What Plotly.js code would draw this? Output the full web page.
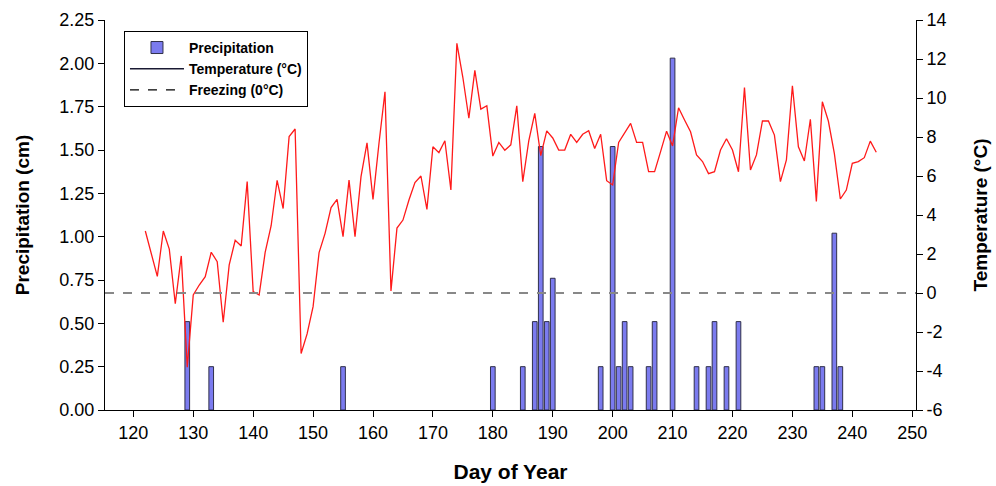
<!DOCTYPE html>
<html>
<head>
<meta charset="utf-8">
<script src="https://cdn.plot.ly/plotly-3.0.1.min.js"></script>
<style>
  html, body { margin: 0; padding: 0; background: #ffffff; }
  #chart { width: 996px; height: 486px; }
</style>
</head>
<body>
<div id="chart"></div>
<script>
// Precipitation events (day of year, cm)
const precipDays = [129, 133, 155, 180, 185, 187, 188, 189, 190, 198, 200, 201, 202, 203, 206, 207, 210, 214, 216, 217, 219, 221, 234, 235, 237, 238];
const precipCm   = [0.51, 0.25, 0.25, 0.25, 0.25, 0.51, 1.52, 0.51, 0.76, 0.25, 1.52, 0.25, 0.51, 0.25, 0.25, 0.51, 2.03, 0.25, 0.25, 0.51, 0.25, 0.51, 0.25, 0.25, 1.02, 0.25];

// Daily mean temperature, days 122..244 (°C)
const tempDays = [122,123,124,125,126,127,128,129,130,131,132,133,134,135,136,137,138,139,140,141,142,143,144,145,146,147,148,149,150,151,152,153,154,155,156,157,158,159,160,161,162,163,164,165,166,167,168,169,170,171,172,173,174,175,176,177,178,179,180,181,182,183,184,185,186,187,188,189,190,191,192,193,194,195,196,197,198,199,200,201,202,203,204,205,206,207,208,209,210,211,212,213,214,215,216,217,218,219,220,221,222,223,224,225,226,227,228,229,230,231,232,233,234,235,236,237,238,239,240,241,242,243,244];
const tempC = [3.18,2.0,0.85,3.18,2.25,-0.55,1.9,-3.8,-0.1,0.41,0.84,2.09,1.61,-1.5,1.44,2.7,2.41,5.71,0.07,-0.1,2.08,3.45,5.78,4.33,8.02,8.41,-3.1,-2.1,-0.7,2.07,3.06,4.38,4.8,2.89,5.79,2.89,5.97,7.7,4.8,7.68,10.32,0.1,3.33,3.74,4.77,5.66,6.0,4.29,7.5,7.2,7.81,5.28,12.8,11.05,8.96,11.42,9.43,9.6,7.02,7.72,7.32,7.6,9.6,5.71,7.8,9.21,7.04,8.31,7.95,7.33,7.33,8.14,7.72,8.14,8.32,7.41,8.14,5.76,5.54,7.72,8.18,8.7,7.72,7.72,6.22,6.22,7.25,8.3,7.54,9.5,8.87,8.27,7.08,6.74,6.12,6.22,7.33,7.91,7.33,6.22,10.54,6.31,7.08,8.82,8.82,8.1,5.71,6.82,10.63,7.5,6.77,8.91,4.7,9.81,8.82,7.16,4.82,5.28,6.65,6.74,6.94,7.79,7.22];

const freezingC = 0;

const xTicks = [120,130,140,150,160,170,180,190,200,210,220,230,240,250];
const yLeftTicks = [0,0.25,0.5,0.75,1.0,1.25,1.5,1.75,2.0,2.25];
const yRightTicks = [-6,-4,-2,0,2,4,6,8,10,12,14];

const legendNames = ['Precipitation', 'Temperature (\u00B0C)', 'Freezing (0\u00B0C)'];

const FONT = 'Liberation Sans, Arial, sans-serif';

const traces = [
  {
    type: 'bar', x: precipDays, y: precipCm, width: 0.78,
    marker: { color: '#7b7bef', line: { color: '#30304a', width: 1 } },
    name: legendNames[0], showlegend: true, yaxis: 'y'
  },
  {
    type: 'scatter', mode: 'lines', x: tempDays, y: tempC,
    line: { color: '#ff1a1a', width: 1.3 },
    name: legendNames[1], showlegend: false, yaxis: 'y2'
  },
  // legend entries (styled like the reference legend)
  {
    type: 'scatter', mode: 'lines', x: [null], y: [null],
    line: { color: '#1a1a33', width: 1.5 },
    name: legendNames[1], showlegend: true, yaxis: 'y2'
  },
  {
    type: 'scatter', mode: 'lines', x: [null], y: [null],
    line: { color: '#000000', width: 1.2, dash: 'dash' },
    name: legendNames[2], showlegend: true, yaxis: 'y2'
  }
];

const layout = {
  width: 996, height: 486,
  margin: { l: 105, r: 80, t: 20, b: 76 },
  paper_bgcolor: '#ffffff', plot_bgcolor: '#ffffff',
  font: { family: FONT, size: 18, color: '#000' },
  showlegend: true,
  legend: {
    x: 0.0234, y: 0.972, xanchor: 'left', yanchor: 'top',
    bgcolor: '#ffffff', bordercolor: '#000000', borderwidth: 1,
    font: { family: FONT, size: 14, color: '#000', weight: 'bold' },
    itemwidth: 54, traceorder: 'normal', entrywidth: 192
  },
  xaxis: {
    range: [115.27, 250.63], tickvals: xTicks, ticktext: xTicks.map(String),
    showline: true, linecolor: '#000', linewidth: 1,
    ticks: 'outside', ticklen: 6, tickcolor: '#000',
    showgrid: false, zeroline: false,
    tickfont: { family: FONT, size: 18 },
    title: { text: 'Day of Year', font: { family: FONT, size: 21, weight: 'bold' }, standoff: 22 }
  },
  yaxis: {
    range: [0, 2.25], tickvals: yLeftTicks, ticktext: yLeftTicks.map(v => v.toFixed(2)),
    showline: true, linecolor: '#000', linewidth: 1,
    ticks: 'outside', ticklen: 6, tickcolor: '#000',
    showgrid: false, zeroline: false,
    tickfont: { family: FONT, size: 18 },
    title: { text: 'Precipitation (cm)', font: { family: FONT, size: 19, weight: 'bold' }, standoff: 24 }
  },
  yaxis2: {
    range: [-6, 14], tickvals: yRightTicks, ticktext: yRightTicks.map(String),
    overlaying: 'y', side: 'right',
    showline: true, linecolor: '#000', linewidth: 1,
    ticks: 'outside', ticklen: 6, tickcolor: '#000',
    showgrid: false, zeroline: false,
    tickfont: { family: FONT, size: 18 },
    title: { text: 'Temperature (\u00B0C)', font: { family: FONT, size: 19, weight: 'bold' }, standoff: 28 }
  },
  shapes: [
    {
      type: 'line', xref: 'paper', x0: 0, x1: 1, yref: 'y2', y0: freezingC, y1: freezingC,
      line: { color: '#888888', width: 2, dash: 'dash' }, layer: 'above'
    }
  ]
};

Plotly.newPlot('chart', traces, layout, { displayModeBar: false, staticPlot: true });
</script>
</body>
</html>
